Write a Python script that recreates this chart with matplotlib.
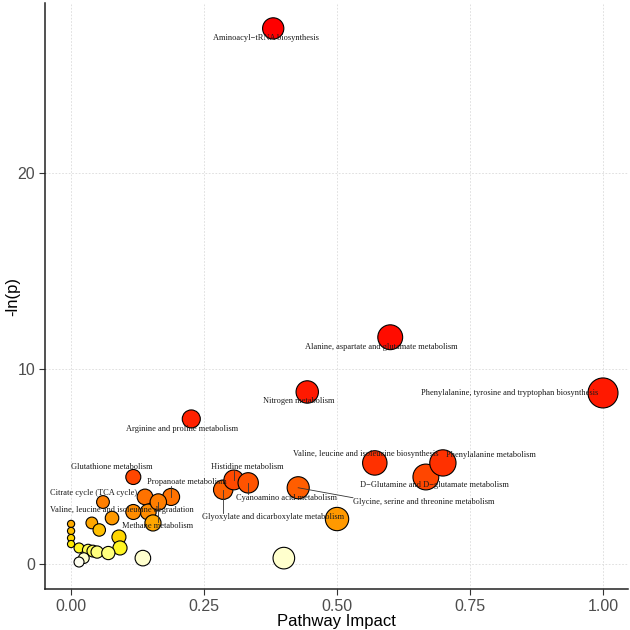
import numpy as np
import matplotlib
matplotlib.use("Agg")
import matplotlib.pyplot as plt
from matplotlib.colors import LinearSegmentedColormap, Normalize

# ---------------- data ----------------
pathways = [
    "Aminoacyl\u2212tRNA biosynthesis",
    "Alanine, aspartate and glutamate metabolism",
    "Phenylalanine, tyrosine and tryptophan biosynthesis",
    "Nitrogen metabolism",
    "Arginine and proline metabolism",
    "Valine, leucine and isoleucine biosynthesis",
    "D\u2212Glutamine and D\u2212glutamate metabolism",
    "Phenylalanine metabolism",
    "Glycine, serine and threonine metabolism",
    "Glyoxylate and dicarboxylate metabolism",
    "Histidine metabolism",
    "Cyanoamino acid metabolism",
    "Glutathione metabolism",
    "Propanoate metabolism",
    "Citrate cycle (TCA cycle)",
    "Valine, leucine and isoleucine degradation",
    "Methane metabolism",
]
impact = [0.380, 0.600, 1.000, 0.444, 0.226, 0.571, 0.667, 0.699, 0.427,
          0.286, 0.306, 0.333, 0.117, 0.188, 0.060, 0.117, 0.164]
neg_ln_p = [27.40, 11.60, 8.75, 8.80, 7.42, 5.17, 4.45, 5.17, 3.90,
            3.80, 4.30, 4.15, 4.45, 3.43, 3.17, 2.66, 3.17]

# unlabelled pathways
other_impact = [0.139, 0.145, 0.154, 0.077, 0.039, 0.053, 0.090, 0.092, 0.500,
                0.000, 0.000, 0.000, 0.000, 0.015, 0.032, 0.041, 0.049, 0.070,
                0.024, 0.015, 0.135, 0.400]
other_neg_ln_p = [3.43, 2.66, 2.10, 2.35, 2.10, 1.74, 1.38, 0.82, 2.30,
                  2.05, 1.69, 1.33, 1.02, 0.82, 0.72, 0.66, 0.61, 0.56,
                  0.30, 0.10, 0.30, 0.30]

x_ticks = [0.00, 0.25, 0.50, 0.75, 1.00]
x_tick_labels = ["0.00", "0.25", "0.50", "0.75", "1.00"]
y_ticks = [0, 10, 20]
y_tick_labels = ["0", "10", "20"]

# ---------------- layout (label offsets in pixels, +down) ----------------
label_offsets_px = [(-7.5, 10), (-9, 10), (-93.5, 0), (-8.5, 9), (-9.5, 10),
                    (-9.5, -9), (8.5, 8), (48.5, -8), (125.5, 14), (50, 27),
                    (13.5, -13), (38, 15), (-21, -10), (16, -15), (-9, -9),
                    (-11.5, -2), (-1, 24)]

# ---------------- styling ----------------
W = H = 630
DPI = 100
PX = 72.0 / DPI  # points per pixel

cmap = LinearSegmentedColormap.from_list("heat", [
    (0.000, "#FFFFF0"), (0.3 / 28, "#FFFFC0"), (0.6 / 28, "#FFFF70"),
    (0.85 / 28, "#FFF200"), (1.1 / 28, "#FFE200"), (1.4 / 28, "#FFD000"),
    (1.8 / 28, "#FFB400"), (2.1 / 28, "#FFA500"), (2.35 / 28, "#FF9600"),
    (2.7 / 28, "#FF8A00"), (3.2 / 28, "#FF7A00"), (3.5 / 28, "#FF6E00"),
    (3.9 / 28, "#FF5A00"), (4.3 / 28, "#FF4800"), (5.2 / 28, "#FF3000"),
    (7.5 / 28, "#FF2000"), (9.0 / 28, "#FF1800"), (12.0 / 28, "#FF0A00"),
    (1.0, "#FF0000")])
norm = Normalize(vmin=0, vmax=28)


def radius_px(imp):
    return 3.6 + 11.4 * np.sqrt(np.asarray(imp, dtype=float))


def area(imp):
    return (2 * radius_px(imp) * PX) ** 2


plt.rcParams["font.family"] = ["Liberation Sans", "DejaVu Sans"]
fig = plt.figure(figsize=(W / DPI, H / DPI), dpi=DPI)
ax = fig.add_axes([45 / W, 1 - 589 / H, 583 / W, 586 / H])

ax.set_xlim(-0.049, 1.047)
ax.set_ylim(-1.28, 28.7)

ax.set_xticks(x_ticks)
ax.set_xticklabels(x_tick_labels)
ax.set_yticks(y_ticks)
ax.set_yticklabels(y_tick_labels)
ax.tick_params(axis="both", labelsize=11.5, labelcolor="#4D4D4D", color="#333333",
               length=4, width=0.8, direction="out", pad=3)
ax.grid(True, color="#DADADA", linestyle=(0, (2, 2)), linewidth=0.6)
ax.set_axisbelow(True)
for s in ["top", "right"]:
    ax.spines[s].set_visible(False)
for s in ["left", "bottom"]:
    ax.spines[s].set_color("#222222")
    ax.spines[s].set_linewidth(1.1)

ax.set_xlabel("Pathway Impact", fontsize=12, color="black", labelpad=0.5)
ax.set_ylabel("-ln(p)", fontsize=12, color="black", va="center")
ax.yaxis.set_label_coords((13 - 45) / 583, 0.5)

# all points (others first, labelled on top)
ax.scatter(other_impact, other_neg_ln_p, s=area(other_impact),
           c=cmap(norm(np.array(other_neg_ln_p))), edgecolors="black",
           linewidths=0.8, zorder=3)
ax.scatter(impact, neg_ln_p, s=area(impact),
           c=cmap(norm(np.array(neg_ln_p))), edgecolors="black",
           linewidths=0.8, zorder=3)

texts = []
for name, xi, yi, (dx, dy) in zip(pathways, impact, neg_ln_p, label_offsets_px):
    t = ax.annotate(name, (xi, yi), xytext=(dx * PX, -dy * PX),
                    textcoords="offset points", ha="center", va="center",
                    fontsize=6.0, family=["Liberation Serif", "DejaVu Serif"],
                    color="#1A1A1A", zorder=5)
    texts.append(t)

# leader segments (like ggrepel) where the point lies outside the label box
fig.canvas.draw()
renderer = fig.canvas.get_renderer()
inv = ax.transData.inverted()
for t, xi, yi in zip(texts, impact, neg_ln_p):
    bb = t.get_window_extent(renderer)
    px, py = ax.transData.transform((xi, yi))
    cx = min(max(px, bb.x0), bb.x1)
    cy = min(max(py, bb.y0), bb.y1)
    if np.hypot(cx - px, cy - py) > 6:
        p0 = inv.transform((px, py))
        p1 = inv.transform((cx, cy))
        ax.plot([p0[0], p1[0]], [p0[1], p1[1]], color="#333333",
                linewidth=0.6, zorder=4)

fig.savefig("out.png", dpi=DPI)
